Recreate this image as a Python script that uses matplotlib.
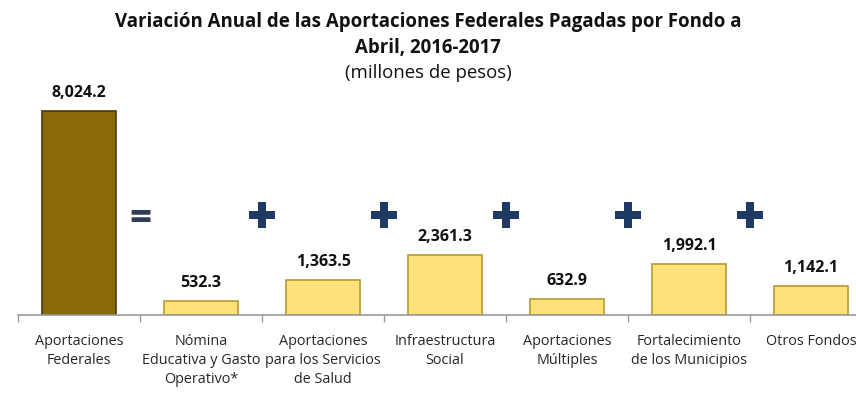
import numpy as np
import matplotlib
matplotlib.use("Agg")
import matplotlib.pyplot as plt

plt.rcParams['font.family'] = ['Open Sans', 'DejaVu Sans']

categorias = ["Aportaciones\nFederales",
              "Nómina\nEducativa y Gasto\nOperativo*",
              "Aportaciones\npara los Servicios\nde Salud",
              "Infraestructura\nSocial",
              "Aportaciones\nMúltiples",
              "Fortalecimiento\nde los Municipios",
              "Otros Fondos"]
valores = [8024.2, 532.3, 1363.5, 2361.3, 632.9, 1992.1, 1142.1]
signos = ["=", "+", "+", "+", "+", "+"]

x = np.arange(len(categorias))
colores = ['#8a6a08'] + ['#fde27a'] * (len(valores) - 1)
bordes = ['#4a3800'] + ['#b89a30'] * (len(valores) - 1)

fig = plt.figure(figsize=(8.56, 4.02), dpi=100)
ax = fig.add_axes([18 / 856, 86 / 402, 854 / 856, 230 / 402])

bars = ax.bar(x, valores, width=0.6, color=colores, edgecolor=bordes, linewidth=1.2)

for xi, v in zip(x, valores):
    ax.annotate(f"{v:,.1f}", (xi, v), xytext=(0, 8), textcoords='offset points',
                ha='center', va='bottom', fontsize=11.5, fontweight='bold', color='#111111')

# signos entre fondos
y_signo = 3950
for i, s in enumerate(signos):
    if s == "+":
        ax.plot(i + 0.5, y_signo, marker='P', markersize=19, color='#1e3a64',
                markeredgewidth=0, clip_on=False)
    else:
        ax.text(i + 0.5, y_signo - 150, s, ha='center', va='center', fontsize=28,
                fontweight='bold', color='#2f3e58')

ax.set_xlim(-0.5, len(categorias) - 0.5)
ax.set_ylim(0, 230 / (204 / 8024.2))
ax.set_yticks([])
ax.set_xticks(x)
ax.set_xticklabels(categorias, fontsize=10.4, color='#262626', linespacing=1.35)
ax.tick_params(axis='x', which='major', length=0, pad=13)
ax.set_xticks(np.arange(-0.5, len(categorias) + 0.5, 1), minor=True)
ax.tick_params(axis='x', which='minor', length=5, color='#9a9a9a', width=1)
for side in ['top', 'right', 'left']:
    ax.spines[side].set_visible(False)
ax.spines['bottom'].set_color('#9a9a9a')
ax.spines['bottom'].set_linewidth(1.2)

fig.text(0.5, 1 - 22 / 402, "Variación Anual de las Aportaciones Federales Pagadas por Fondo a",
         ha='center', va='center', fontsize=13.4, fontweight='bold', color='#111111')
fig.text(0.5, 1 - 48 / 402, "Abril, 2016-2017", ha='center', va='center',
         fontsize=13.4, fontweight='bold', color='#111111')
fig.text(0.5, 1 - 73 / 402, "(millones de pesos)", ha='center', va='center',
         fontsize=13.4, color='#111111')

fig.savefig("out.png", dpi=100, facecolor='white')
